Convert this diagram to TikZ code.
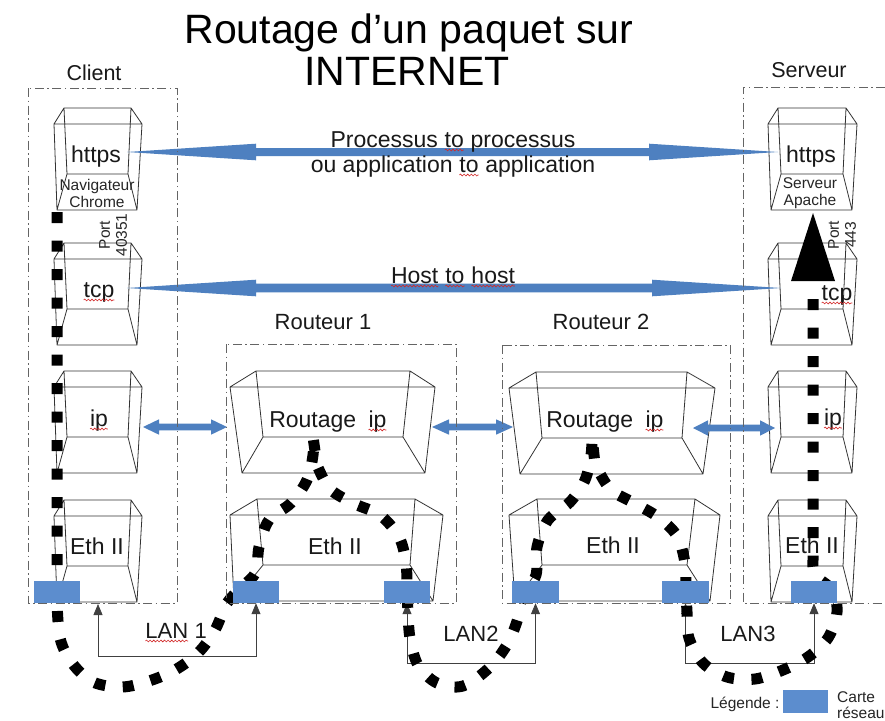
\documentclass[tikz,border=0pt]{standalone}
\usepackage{fontspec}
\setmainfont{Liberation Sans}
\usetikzlibrary{arrows.meta,calc,decorations.pathmorphing}

\definecolor{arrowblue}{RGB}{78,128,192}
\definecolor{cardblue}{RGB}{92,141,206}
\definecolor{framegray}{RGB}{100,100,100}
\definecolor{spellred}{RGB}{210,40,40}

% Open wire-frame box: #1,#2 outer top left/right x, #3 back top y,
% #4,#5 back-top insets, #6,#7 back-bottom insets, #8,#9 front-bottom insets
\newcommand\wirecube[9]{%
  \draw[cubeline]
    ({#1+#4},#3) -- ({#2-#5},#3) -- (#2,{#3+16}) -- (#1,{#3+16}) -- cycle
    (#1,{#3+16}) -- ({#1+#8},{#3+102}) -- ({#2-#9},{#3+102}) -- (#2,{#3+16})
    ({#1+#4},#3) -- ({#1+#6},{#3+66}) -- ({#2-#7},{#3+66}) -- ({#2-#5},#3)
    ({#1+#6},{#3+66}) -- ({#1+#8},{#3+102})
    ({#2-#7},{#3+66}) -- ({#2-#9},{#3+102});
}

% Blue double arrow with long tapered heads between two named points
\newcommand\bluearrow[5]{%
  \fill[arrowblue] (#1) -- ($(#1)+(#3,-#4)$) -- ($(#1)+(#3,-#5)$)
    -- ($(#2)+(-#3,-#5)$) -- ($(#2)+(-#3,-#4)$) -- (#2)
    -- ($(#2)+(-#3,#4)$) -- ($(#2)+(-#3,#5)$)
    -- ($(#1)+(#3,#5)$) -- ($(#1)+(#3,#4)$) -- cycle;
}

% Word with a red wavy underline
\newcommand\spellchk[1]{\tikz[baseline=(sw.base)]{\node[inner sep=0pt,outer sep=0pt,anchor=base] (sw) at (0,0) {#1};\draw[spellred,line width=0.6pt,decorate,decoration={snake,amplitude=0.9pt,segment length=3.6pt}] ([yshift=-3pt]sw.base west) -- ([yshift=-3pt]sw.base east);}}

\begin{document}
\begin{tikzpicture}[x=1pt,y=-1pt,
  cubeline/.style={draw=black!80,line width=0.8pt,line join=round},
  framebox/.style={draw=framegray,line width=0.9pt,dash pattern=on 9pt off 3.5pt on 1.5pt off 3.5pt},
  lbl/.style={font=\fontsize{23}{26}\selectfont,text=black!90,inner sep=0pt,anchor=base},
  head/.style={font=\fontsize{22}{26}\selectfont,text=black!90,inner sep=0pt,anchor=base},
  small/.style={font=\fontsize{15.5}{17}\selectfont,text=black!85,inner sep=0pt,align=center},
  card/.style={fill=cardblue,draw=none,minimum width=46pt,minimum height=22pt,inner sep=0pt},
  route/.style={draw=black,line width=11pt,dash pattern=on 11pt off 17.5pt},
  lan/.style={draw=black!75,line width=0.8pt,>={Triangle[length=11pt,width=9pt]},<->}
]
\useasboundingbox (0,0) rectangle (885,720);
\fill[white] (0,0) rectangle (885,720);

% title
\node[font=\fontsize{41}{44}\selectfont,inner sep=0pt,anchor=base] (title1) at (409,43) {Routage d’un paquet sur};
\node[font=\fontsize{41}{44}\selectfont,inner sep=0pt,anchor=base] (title2) at (407,85) {INTERNET};

% protocol layers of the client and of the server
\foreach \L/\R in {54/142,768/857}{
  \wirecube{\L}{\R}{108}{10}{11}{13}{14}{3}{5}
  \wirecube{\L}{\R}{243}{10}{11}{13}{14}{3}{5}
  \wirecube{\L}{\R}{371}{10}{11}{13}{14}{3}{5}
  \wirecube{\L}{\R}{500}{10}{11}{13}{14}{3}{5}
}
% router layers
\wirecube{230}{435}{371}{26}{25}{33}{32}{12}{10}
\wirecube{230}{443}{499}{27}{28}{33}{33}{4}{10}
\wirecube{509}{715}{372}{27}{28}{33}{33}{11}{12}
\wirecube{509}{720}{499}{28}{25}{33}{33}{6}{10}

% layer names
\node[lbl] (tHttpsC) at (96,162) {https};
\node[lbl] (tTcpC) at (99,297) {\spellchk{tcp}};
\node[lbl] (tIpC) at (99,426) {\spellchk{ip}};
\node[lbl] (tEthC) at (97,554) {Eth II};
\node[lbl] (tHttpsS) at (811,162) {https};
\node[lbl] (tTcpS) at (837,300) {\spellchk{tcp}};
\node[lbl] (tIpS) at (833,425) {\spellchk{ip}};
\node[lbl] (tEthS) at (812,553) {Eth II};
\node[lbl] (tRoutR1) at (328,427) {Routage\hspace{12pt}\spellchk{ip}};
\node[lbl] (tEthR1) at (335,554) {Eth II};
\node[lbl] (tRoutR2) at (605,427) {Routage\hspace{12pt}\spellchk{ip}};
\node[lbl] (tEthR2) at (613,553) {Eth II};

\node[small] (navC) at (97,193) {Navigateur\\Chrome};
\node[small] (apacheS) at (810,193) {Serveur\\Apache};
\node[small,rotate=90] (portC) at (113,235) {Port\\40351};
\node[small,rotate=90] (portS) at (842,235) {Port\\443};

% network cards
\node[card] (cardC) at (57,592) {};
\node[card] (cardR1a) at (256,592) {};
\node[card] (cardR1b) at (407,592) {};
\node[card] (cardR2a) at (535.5,592) {};
\node[card] (cardR2b) at (685.5,592) {};
\node[card] (cardS) at (814,592) {};

% LAN links
\coordinate (lanC) at (98,604);
\draw[lan] (lanC) -- (98,656) -| (cardR1a.south);
\draw[lan] (cardR1b.south) -- ++(0,60) -| (cardR2a.south);
\draw[lan] (cardR2b.south) -- ++(0,60) -| (cardS.south);
\node[head] (lan1) at (176,638) {\spellchk{LAN} 1};
\node[head] (lan2) at (471,641) {LAN2};
\node[head] (lan3) at (748,641) {LAN3};

% path of the packet
\draw[route] (57,212) -- plot[smooth,tension=0.55] coordinates {(57,600) (60,638) (72,663) (93,682) (122,687) (149,681) (175,670) (198,653) (215,630) (227,603) (242,587) (256,572) (259,547) (269,520) (291,503) (307,480) (313,455) (313,437)}
  -- plot[smooth,tension=0.55] coordinates {(317,465) (330,489) (355,504) (380,515) (399,537) (406,563) (407,590) (408,612) (410,638) (418,665) (437,683) (463,686) (490,667) (508,643) (518,618) (522,598) (536,575) (537,547) (548,520) (570,502) (585,480) (591,455) (592,437)}
  -- plot[smooth,tension=0.55] coordinates {(595,464) (610,489) (632,502) (658,517) (677,536) (685,563) (686,590) (687,612) (689,638) (703,663) (727,677) (755,679) (783,670) (808,657) (828,638) (837,612) (832,590) (815,575) (813,560)}
  -- (813,288);
\coordinate (routeTip) at (813,213);
\fill[black] (791,281) -- (routeTip) -- (835,281) -- cycle;

% cards drawn over the packet path
\foreach \c in {cardC,cardR1a,cardR1b,cardR2a,cardR2b,cardS}{
  \fill[cardblue] (\c.south west) rectangle (\c.north east);
}

% end-to-end relations
\coordinate (pL) at (127,152);
\coordinate (pR) at (778,152);
\bluearrow{pL}{pR}{129}{8.3}{4}
\coordinate (hL) at (127,288);
\coordinate (hR) at (781,288);
\bluearrow{hL}{hR}{129}{8.3}{4.3}
\coordinate (iA) at (143,427);
\coordinate (iB) at (227,427);
\bluearrow{iA}{iB}{16}{7.7}{3.4}
\coordinate (iC) at (432,427);
\coordinate (iD) at (513,427);
\bluearrow{iC}{iD}{17}{7.7}{3.4}
\coordinate (iE) at (693,428);
\coordinate (iF) at (775,428);
\bluearrow{iE}{iF}{15}{7.7}{3.4}

\node[lbl] (proc1) at (453,147) {Processus \spellchk{to} processus};
\node[lbl] (proc2) at (453,172) {ou application \spellchk{to} application};
\node[lbl] (host) at (453,283) {\spellchk{Host} \spellchk{to} \spellchk{host}};

% machines
\draw[framebox] (28,88) rectangle (177,603);
\draw[framebox] (226,344) rectangle (456,603);
\draw[framebox] (502,345) rectangle (730,603);
\draw[framebox] (885,87) -- (743,87) -- (743,603) -- (885,603);
\node[head,font=\fontsize{21.5}{26}\selectfont] (client) at (94,80) {Client};
\node[head,font=\fontsize{21.5}{26}\selectfont] (serveur) at (809,77) {Serveur};
\node[head] (routeur1) at (323,329) {Routeur 1};
\node[head] (routeur2) at (601,329) {Routeur 2};

% legend
\node[small,anchor=base] (legende) at (745,708) {Légende :};
\node[card,minimum width=45pt,minimum height=23pt] (legcard) at (805.5,701.5) {};
\node[small,anchor=base west] (carte) at (837,702) {Carte};
\node[small,anchor=base west] (reseau) at (837,718) {réseau};
\end{tikzpicture}
\end{document}
